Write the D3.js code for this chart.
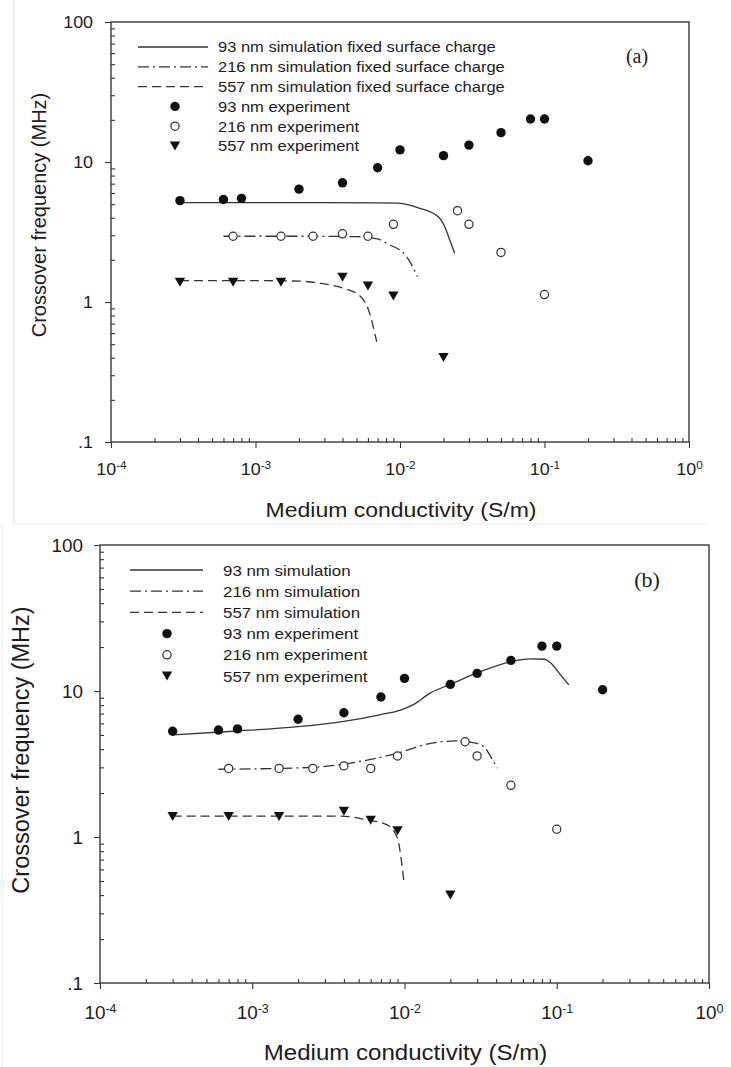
<!DOCTYPE html>
<html>
<head>
<meta charset="utf-8">
<script src="https://cdn.jsdelivr.net/npm/d3@7"></script>
<style>
  html, body { margin: 0; padding: 0; background: #ffffff; }
  svg { display: block; }
</style>
</head>
<body>
<svg id="chart" width="731" height="1067"></svg>
<script>
// ---------------- DATA ----------------
// experiments (shared by both panels)
const cond93  = [3e-4, 6e-4, 8e-4, 2e-3, 4e-3, 7e-3, 1e-2, 2e-2, 3e-2, 5e-2, 8e-2, 1e-1, 2e-1];
const freq93  = [5.3, 5.4, 5.5, 6.4, 7.1, 9.1, 12.2, 11.1, 13.2, 16.2, 20.3, 20.3, 10.2];
const cond216 = [7e-4, 1.5e-3, 2.5e-3, 4e-3, 6e-3, 9e-3, 2.5e-2, 3e-2, 5e-2, 1e-1];
const freq216 = [2.95, 2.95, 2.95, 3.07, 2.95, 3.59, 4.49, 3.59, 2.26, 1.13];
const cond557 = [3e-4, 7e-4, 1.5e-3, 4e-3, 6e-3, 9e-3, 2e-2];
const freq557 = [1.38, 1.38, 1.38, 1.5, 1.3, 1.1, 0.4];

// panel (a) simulations, fixed surface charge
const simA93x  = [3e-4, 1e-3, 3e-3, 7e-3, 0.0097, 0.0137, 0.0184, 0.0204, 0.0221, 0.0239];
const simA93y  = [5.12, 5.12, 5.12, 5.11, 5.08, 4.67, 4.06, 3.45, 2.77, 2.23];
const simA216x = [6e-4, 2e-3, 5e-3, 7.1e-3, 8.1e-3, 0.0111, 0.0132];
const simA216y = [2.95, 2.95, 2.93, 2.81, 2.62, 2.11, 1.52];
const simA557x = [3e-4, 1e-3, 2e-3, 2.8e-3, 4.07e-3, 5.2e-3, 6.05e-3, 6.9e-3];
const simA557y = [1.42, 1.42, 1.41, 1.36, 1.25, 1.12, 0.88, 0.52];

// panel (b) simulations
const simB93x  = [3e-4, 7.5e-4, 2e-3, 4e-3, 7e-3, 9.4e-3, 0.0115, 0.0148, 0.02, 0.03, 0.05, 0.067, 0.083, 0.091, 0.106, 0.12];
const simB93y  = [5.0, 5.3, 5.7, 6.2, 6.9, 7.4, 8.1, 9.7, 11.1, 13.3, 15.9, 16.6, 16.5, 15.6, 12.9, 11.0];
const simB216x = [6e-4, 2.5e-3, 3.3e-3, 6e-3, 9e-3, 0.0148, 0.0222, 0.0286, 0.0333, 0.0368, 0.0407];
const simB216y = [2.91, 3.0, 3.08, 3.4, 3.75, 4.38, 4.55, 4.42, 4.15, 3.55, 2.96];
const simB557x = [3e-4, 1e-3, 3.8e-3, 5.7e-3, 7.7e-3, 9.0e-3, 9.5e-3, 9.9e-3];
const simB557y = [1.39, 1.39, 1.39, 1.31, 1.21, 0.98, 0.71, 0.5];

// ticks and labels
const xMajor = [1e-4, 1e-3, 1e-2, 1e-1, 1];
const xExp = ["-4", "-3", "-2", "-1", "0"];
const yMajor = [100, 10, 1, 0.1];
const yLabels = ["100", "10", "1", ".1"];
const legendA = ["93 nm simulation fixed surface charge", "216 nm simulation fixed surface charge",
                 "557 nm simulation fixed surface charge", "93 nm experiment", "216 nm experiment", "557 nm experiment"];
const legendB = ["93 nm simulation", "216 nm simulation", "557 nm simulation",
                 "93 nm experiment", "216 nm experiment", "557 nm experiment"];
const xTitle = "Medium conductivity (S/m)";
const yTitle = "Crossover frequency (MHz)";

// ---------------- DRAW ----------------
const svg = d3.select("#chart");
const SANS = "'Liberation Sans', Arial, sans-serif";
const SERIF = "'Liberation Serif', 'Times New Roman', serif";
const INK = "#1c1c1c";
const LINE = "#333333";
const DASH = "9,5";
const DASHDOT = "11,4,2,4";

// faint border of the first (pasted) image
svg.append("line").attr("x1", 14).attr("x2", 14).attr("y1", 0).attr("y2", 524)
  .attr("stroke", "#e6ebf2").attr("stroke-width", 1.5);
svg.append("line").attr("x1", 14).attr("x2", 707).attr("y1", 524).attr("y2", 524)
  .attr("stroke", "#eef1f5").attr("stroke-width", 1.5);
svg.append("line").attr("x1", 2).attr("x2", 2).attr("y1", 524).attr("y2", 1067)
  .attr("stroke", "#eef1f5").attr("stroke-width", 1.5);

function stext(g, x, y, str, size, sx, anchor, family) {
  return g.append("text")
    .attr("transform", `translate(${x},${y}) scale(${sx},1)`)
    .attr("font-size", size).attr("text-anchor", anchor)
    .attr("font-family", family || SANS).attr("fill", INK).text(str);
}

function drawPanel(c) {
  const g = svg.append("g");
  const x = d3.scaleLog().domain([1e-4, 1]).range([c.left, c.right]);
  const y = d3.scaleLog().domain([0.1, 100]).range([c.bottom, c.top]);

  // minor ticks (inward)
  const xMinor = x.ticks().filter(v => Math.abs(Math.log10(v) - Math.round(Math.log10(v))) > 1e-6);
  const yMinor = y.ticks().filter(v => Math.abs(Math.log10(v) - Math.round(Math.log10(v))) > 1e-6);

  const gxm = g.append("g").attr("transform", `translate(0,${c.bottom})`)
    .call(d3.axisBottom(x).tickValues(xMinor).tickSize(-4).tickFormat(""));
  const gym = g.append("g").attr("transform", `translate(${c.left},0)`)
    .call(d3.axisLeft(y).tickValues(yMinor).tickSize(-4).tickFormat(""));

  // major ticks (outward) with labels
  const gx = g.append("g").attr("transform", `translate(0,${c.bottom})`)
    .call(d3.axisBottom(x).tickValues(xMajor).tickSize(6).tickFormat(""));
  const gy = g.append("g").attr("transform", `translate(${c.left},0)`)
    .call(d3.axisLeft(y).tickValues(yMajor).tickSize(6).tickFormat((d, i) => yLabels[i]));

  [gxm, gym, gx, gy].forEach(a => {
    a.select(".domain").remove();
    a.selectAll(".tick line").attr("stroke", LINE).attr("stroke-width", 1.1);
  });

  gx.selectAll(".tick").each(function (d, i) {
    const t = d3.select(this).append("text")
      .attr("transform", `translate(0,${c.xLabOff}) scale(1.05,1)`)
      .attr("text-anchor", "middle").attr("font-family", SANS)
      .attr("font-size", c.tickSize).attr("fill", INK);
    t.append("tspan").text("10");
    t.append("tspan").attr("dy", -c.tickSize * 0.36).attr("font-size", c.tickSize * 0.66).text(xExp[i]);
  });
  gy.selectAll(".tick text")
    .attr("x", null).attr("dy", "0.35em")
    .attr("transform", `translate(${-c.yLabGap},0) scale(1.05,1)`)
    .attr("font-family", SANS).attr("font-size", c.tickSize).attr("fill", INK);

  // frame
  g.append("rect").attr("x", c.left).attr("y", c.top)
    .attr("width", c.right - c.left).attr("height", c.bottom - c.top)
    .attr("fill", "none").attr("stroke", "#3a3a3a").attr("stroke-width", 1.4);

  // titles
  stext(g, (c.left + c.right) / 2 + 1, c.xTitleY, xTitle, c.xTitleSize, c.xTitleSx, "middle");
  g.append("text")
    .attr("transform", `translate(${c.yTitleX},${c.yTitleY}) rotate(-90)`)
    .attr("text-anchor", "middle").attr("font-family", SANS)
    .attr("font-size", c.yTitleSize).attr("fill", INK).text(yTitle);
  stext(g, c.tagX, c.tagY, c.tag, c.tagSize, 1.0, "middle", SERIF);

  // simulation curves
  const line = d3.line().x(d => x(d[0])).y(d => y(d[1])).curve(d3.curveMonotoneX);
  const sims = [
    { xs: c.sim93x, ys: c.sim93y, dash: null },
    { xs: c.sim216x, ys: c.sim216y, dash: DASHDOT },
    { xs: c.sim557x, ys: c.sim557y, dash: DASH }
  ];
  sims.forEach(s => {
    g.append("path").datum(d3.zip(s.xs, s.ys)).attr("d", line)
      .attr("fill", "none").attr("stroke", LINE).attr("stroke-width", 1.3)
      .attr("stroke-dasharray", s.dash);
  });

  // experiment markers
  const tri = "M-5.2,-4.6L5.2,-4.6L0,4.4Z";
  g.selectAll(".p93").data(d3.zip(cond93, freq93)).join("circle")
    .attr("cx", d => x(d[0])).attr("cy", d => y(d[1])).attr("r", 4.7).attr("fill", "#111");
  g.selectAll(".p216").data(d3.zip(cond216, freq216)).join("circle")
    .attr("cx", d => x(d[0])).attr("cy", d => y(d[1])).attr("r", 4.1)
    .attr("fill", "#fff").attr("stroke", "#333").attr("stroke-width", 1.25);
  g.selectAll(".p557").data(d3.zip(cond557, freq557)).join("path")
    .attr("transform", d => `translate(${x(d[0])},${y(d[1])})`).attr("d", tri).attr("fill", "#111");

  // legend
  const L = c.leg;
  const rows = c.legend;
  rows.forEach((lab, i) => {
    const yy = L.y0 + i * L.dy;
    if (i < 3) {
      g.append("line").attr("x1", L.lx1).attr("x2", L.lx2).attr("y1", yy).attr("y2", yy)
        .attr("stroke", LINE).attr("stroke-width", 1.3)
        .attr("stroke-dasharray", i === 0 ? null : (i === 1 ? DASHDOT : DASH));
    } else if (i === 3) {
      g.append("circle").attr("cx", L.mx).attr("cy", yy).attr("r", 4.7).attr("fill", "#111");
    } else if (i === 4) {
      g.append("circle").attr("cx", L.mx).attr("cy", yy).attr("r", 4.1)
        .attr("fill", "#fff").attr("stroke", "#333").attr("stroke-width", 1.25);
    } else {
      g.append("path").attr("transform", `translate(${L.mx},${yy})`).attr("d", tri).attr("fill", "#111");
    }
    stext(g, L.tx, yy + L.size * 0.36, lab, L.size, L.sx, "start");
  });
}

drawPanel({
  left: 111, right: 689, top: 22, bottom: 442,
  tickSize: 17, xLabOff: 33, yLabGap: 18,
  xTitleY: 517, xTitleSize: 20, xTitleSx: 1.15,
  yTitleX: 46, yTitleY: 215, yTitleSize: 20,
  tag: "(a)", tagX: 637, tagY: 63, tagSize: 20,
  sim93x: simA93x, sim93y: simA93y, sim216x: simA216x, sim216y: simA216y, sim557x: simA557x, sim557y: simA557y,
  legend: legendA,
  leg: { y0: 47, dy: 19.8, lx1: 138, lx2: 208, mx: 175, tx: 218, size: 15, sx: 1.1 }
});

drawPanel({
  left: 100, right: 709, top: 545, bottom: 983,
  tickSize: 18, xLabOff: 36, yLabGap: 17,
  xTitleY: 1060, xTitleSize: 21.5, xTitleSx: 1.12,
  yTitleX: 29, yTitleY: 750, yTitleSize: 23.5,
  tag: "(b)", tagX: 647, tagY: 587, tagSize: 22,
  sim93x: simB93x, sim93y: simB93y, sim216x: simB216x, sim216y: simB216y, sim557x: simB557x, sim557y: simB557y,
  legend: legendB,
  leg: { y0: 570, dy: 21.2, lx1: 130, lx2: 203, mx: 167, tx: 223, size: 15.5, sx: 1.09 }
});
</script>
</body>
</html>
